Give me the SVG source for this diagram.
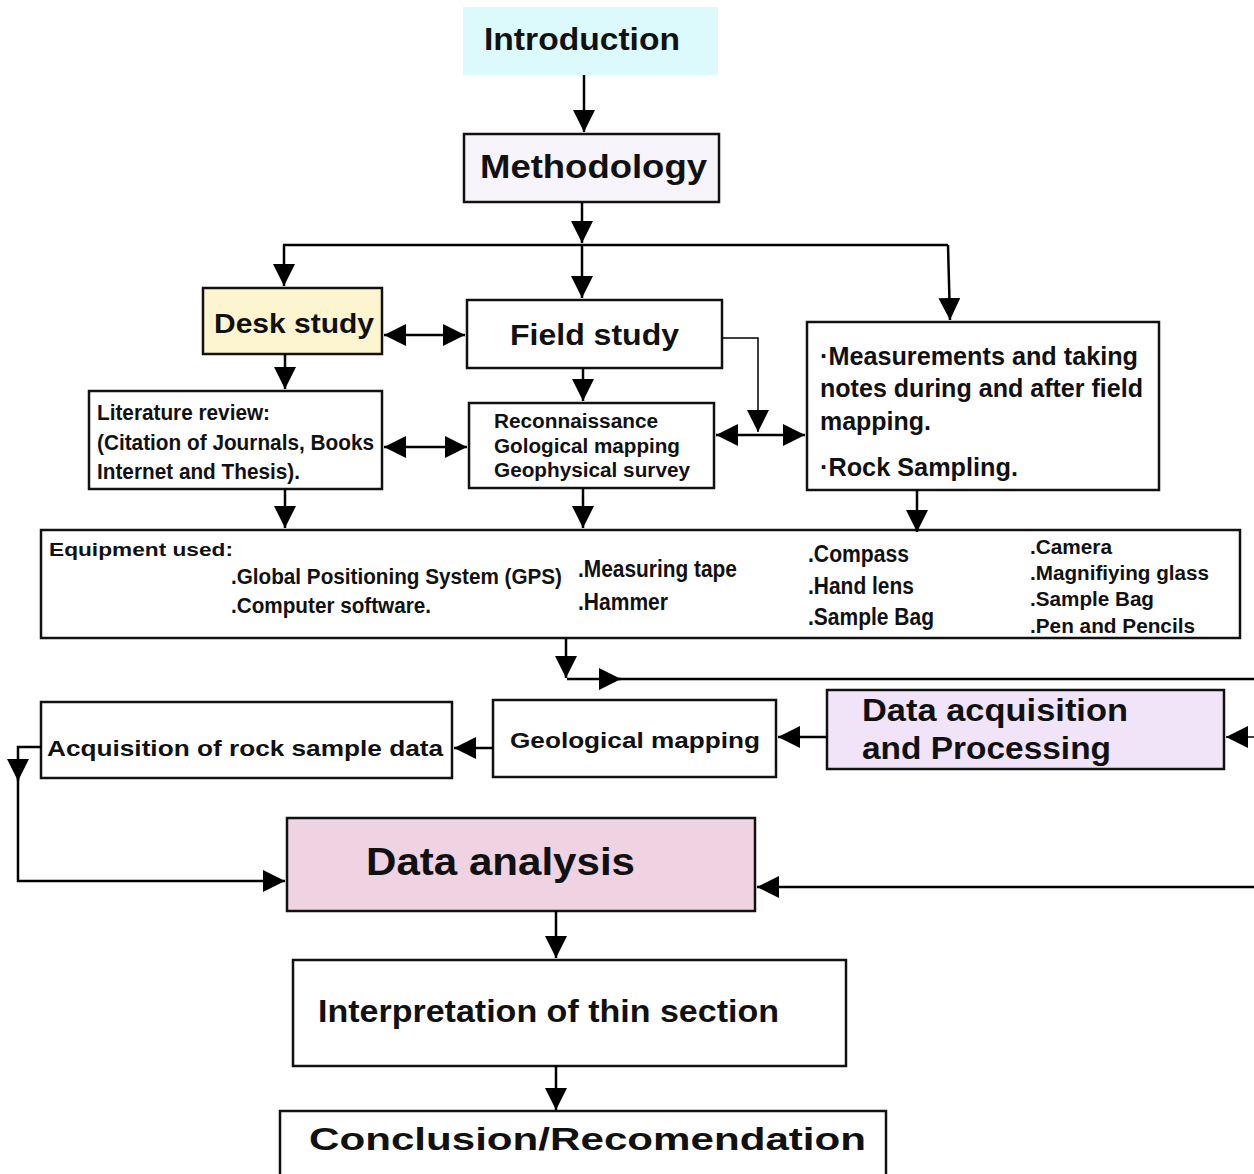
<svg xmlns="http://www.w3.org/2000/svg" width="1254" height="1174" viewBox="0 0 1254 1174">
<defs>
<marker id="ah" markerUnits="userSpaceOnUse" markerWidth="22" markerHeight="22" viewBox="0 0 22 22" refX="22" refY="11" orient="auto-start-reverse">
<path d="M0,0 L22,11 L0,22 z" fill="#000"/>
</marker>
<style>
.box{stroke:#111;stroke-width:2.5;fill:#fff}
.t{font-family:"Liberation Sans",Arial,sans-serif;font-weight:bold;fill:#111}
.c{fill:none;stroke:#000;stroke-width:2.5}
</style>
</defs>
<rect width="1254" height="1174" fill="#fff"/>

<g id="introduction">
<rect x="463" y="7" width="255" height="68" fill="#dcfafc"/>
<text class="t" x="484" y="50" font-size="31" textLength="196" lengthAdjust="spacingAndGlyphs">Introduction</text>
</g>
<g id="methodology">
<rect class="box" x="464" y="134" width="255" height="68" style="fill:#f7f4fc"/>
<text class="t" x="480" y="178" font-size="34" textLength="227" lengthAdjust="spacingAndGlyphs">Methodology</text>
</g>
<g id="desk-study">
<rect class="box" x="203" y="288" width="179" height="66" style="fill:#fdf4d0"/>
<text class="t" x="214" y="333" font-size="28" textLength="160" lengthAdjust="spacingAndGlyphs">Desk study</text>
</g>
<g id="field-study">
<rect class="box" x="467" y="300" width="255" height="68"/>
<text class="t" x="510" y="345" font-size="30" textLength="169" lengthAdjust="spacingAndGlyphs">Field study</text>
</g>
<g id="literature-review">
<rect class="box" x="89" y="391" width="293" height="98"/>
<text class="t" x="97" y="420" font-size="22" textLength="173" lengthAdjust="spacingAndGlyphs">Literature review:</text>
<text class="t" x="97" y="450" font-size="22" textLength="277" lengthAdjust="spacingAndGlyphs">(Citation of Journals, Books</text>
<text class="t" x="97" y="479" font-size="22" textLength="203" lengthAdjust="spacingAndGlyphs">Internet and Thesis).</text>
</g>
<g id="reconnaissance">
<rect class="box" x="469" y="403" width="245" height="85"/>
<text class="t" x="494" y="428" font-size="20" textLength="164" lengthAdjust="spacingAndGlyphs">Reconnaissance</text>
<text class="t" x="494" y="453" font-size="20" textLength="186" lengthAdjust="spacingAndGlyphs">Gological mapping</text>
<text class="t" x="494" y="477" font-size="20" textLength="196" lengthAdjust="spacingAndGlyphs">Geophysical survey</text>
</g>
<g id="measurements">
<rect class="box" x="807" y="322" width="352" height="168"/>
<text class="t" x="820" y="365" font-size="25" textLength="318" lengthAdjust="spacingAndGlyphs">·Measurements and taking</text>
<text class="t" x="820" y="397" font-size="25" textLength="323" lengthAdjust="spacingAndGlyphs">notes during and after field</text>
<text class="t" x="820" y="430" font-size="25" textLength="111" lengthAdjust="spacingAndGlyphs">mapping.</text>
<text class="t" x="820" y="476" font-size="25" textLength="198" lengthAdjust="spacingAndGlyphs">·Rock Sampling.</text>
</g>
<g id="equipment">
<rect class="box" x="41" y="530" width="1199" height="108"/>
<text class="t" x="49" y="556" font-size="19" textLength="184" lengthAdjust="spacingAndGlyphs">Equipment used:</text>
<text class="t" x="231" y="584" font-size="22" textLength="331" lengthAdjust="spacingAndGlyphs">.Global Positioning System (GPS)</text>
<text class="t" x="231" y="613" font-size="22" textLength="200" lengthAdjust="spacingAndGlyphs">.Computer software.</text>
<text class="t" x="578" y="577" font-size="23" textLength="159" lengthAdjust="spacingAndGlyphs">.Measuring tape</text>
<text class="t" x="578" y="610" font-size="23" textLength="90" lengthAdjust="spacingAndGlyphs">.Hammer</text>
<text class="t" x="808" y="562" font-size="23" textLength="101" lengthAdjust="spacingAndGlyphs">.Compass</text>
<text class="t" x="808" y="594" font-size="23" textLength="106" lengthAdjust="spacingAndGlyphs">.Hand lens</text>
<text class="t" x="808" y="625" font-size="23" textLength="126" lengthAdjust="spacingAndGlyphs">.Sample Bag</text>
<text class="t" x="1030" y="554" font-size="20" textLength="82" lengthAdjust="spacingAndGlyphs">.Camera</text>
<text class="t" x="1030" y="580" font-size="20" textLength="179" lengthAdjust="spacingAndGlyphs">.Magnifiying glass</text>
<text class="t" x="1030" y="606" font-size="20" textLength="124" lengthAdjust="spacingAndGlyphs">.Sample Bag</text>
<text class="t" x="1030" y="633" font-size="20" textLength="165" lengthAdjust="spacingAndGlyphs">.Pen and Pencils</text>
</g>
<g id="data-acquisition">
<rect class="box" x="827" y="690" width="397" height="79" style="fill:#f2e4f8"/>
<text class="t" x="862" y="721" font-size="32" textLength="266" lengthAdjust="spacingAndGlyphs">Data acquisition</text>
<text class="t" x="862" y="759" font-size="32" textLength="249" lengthAdjust="spacingAndGlyphs">and Processing</text>
</g>
<g id="geological-mapping">
<rect class="box" x="493" y="700" width="283" height="77"/>
<text class="t" x="510" y="748" font-size="22" textLength="250" lengthAdjust="spacingAndGlyphs">Geological mapping</text>
</g>
<g id="acquisition-rock">
<rect class="box" x="41" y="702" width="411" height="76"/>
<text class="t" x="47" y="756" font-size="22" textLength="396" lengthAdjust="spacingAndGlyphs">Acquisition of rock sample data</text>
</g>
<g id="data-analysis">
<rect class="box" x="287" y="818" width="468" height="93" style="fill:#efd3e3"/>
<text class="t" x="366" y="875" font-size="38" textLength="269" lengthAdjust="spacingAndGlyphs">Data analysis</text>
</g>
<g id="interpretation">
<rect class="box" x="293" y="960" width="553" height="106"/>
<text class="t" x="318" y="1022" font-size="31" textLength="461" lengthAdjust="spacingAndGlyphs">Interpretation of thin section</text>
</g>
<g id="conclusion">
<rect class="box" x="280" y="1111" width="606" height="70"/>
<text class="t" x="309" y="1150" font-size="32" textLength="557" lengthAdjust="spacingAndGlyphs">Conclusion/Recomendation</text>
</g>

<g id="connectors">
<path class="c" d="M584,75 V132" marker-end="url(#ah)"/>
<path class="c" d="M582,202 V243" marker-end="url(#ah)"/>
<path class="c" d="M283,245 H948"/>
<path class="c" d="M284,245 V286" marker-end="url(#ah)"/>
<path class="c" d="M582,245 V298" marker-end="url(#ah)"/>
<path class="c" d="M948,245 L950,320" marker-end="url(#ah)"/>
<path class="c" d="M384,335 H465" marker-start="url(#ah)" marker-end="url(#ah)"/>
<path class="c" d="M285,354 V389" marker-end="url(#ah)"/>
<path class="c" d="M583,368 V401" marker-end="url(#ah)"/>
<path class="c" d="M384,447 H467" marker-start="url(#ah)" marker-end="url(#ah)"/>
<path style="fill:none;stroke:#000;stroke-width:1.5" d="M722,338 H758 V432" marker-end="url(#ah)"/>
<path class="c" d="M716,435 H805" marker-start="url(#ah)" marker-end="url(#ah)"/>
<path class="c" d="M285,489 V528" marker-end="url(#ah)"/>
<path class="c" d="M583,488 V528" marker-end="url(#ah)"/>
<path class="c" d="M917,490 V532" marker-end="url(#ah)"/>
<path class="c" d="M566,638 V678" marker-end="url(#ah)"/>
<path class="c" d="M567,679 H621" marker-end="url(#ah)"/>
<path class="c" d="M615,679 H1254"/>
<path style="fill:none;stroke:#000;stroke-width:1.5" d="M1254,737 H1226" marker-end="url(#ah)"/>
<path class="c" d="M827,737 H778" marker-end="url(#ah)"/>
<path class="c" d="M493,748 H454" marker-end="url(#ah)"/>
<path class="c" d="M41,747 H18 V781" marker-end="url(#ah)"/>
<path class="c" d="M18,775 V881 H285" marker-end="url(#ah)"/>
<path class="c" d="M1254,887 H757" marker-end="url(#ah)"/>
<path class="c" d="M556,911 V958" marker-end="url(#ah)"/>
<path class="c" d="M556,1066 V1110" marker-end="url(#ah)"/>
</g>
</svg>
